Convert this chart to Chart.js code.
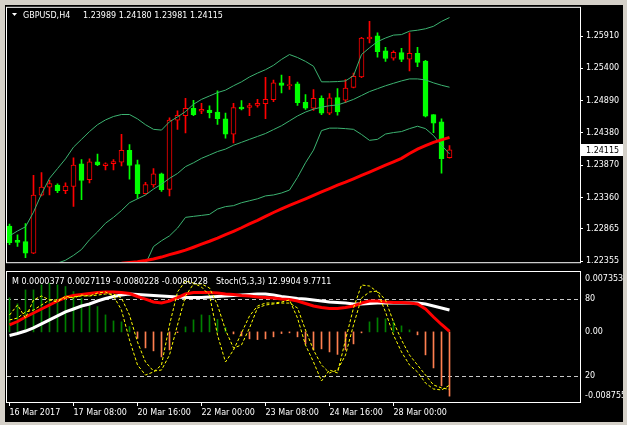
<!DOCTYPE html>
<html><head><meta charset="utf-8">
<script src="https://cdn.jsdelivr.net/npm/chart.js@4.4.1/dist/chart.umd.min.js"></script>
<style>
html,body{margin:0;padding:0;background:#d4d0c8;width:627px;height:425px;overflow:hidden}
#frame{position:absolute;left:5px;top:5px;width:618px;height:417px;background:#000;overflow:hidden}
.wrap{position:absolute;left:-5px}
</style></head><body>
<div id="frame">
  <div class="wrap" style="top:-5px;width:627px;height:270px"><canvas id="main" width="627" height="270"></canvas></div>
  <div class="wrap" style="top:265px;width:627px;height:155px"><canvas id="sub" width="627" height="155"></canvas></div>
</div>
<script>
const FONT = 'DejaVu Sans';
const categories = [
 '2017.03.16 00:00','2017.03.16 04:00','2017.03.16 08:00','2017.03.16 12:00','2017.03.16 16:00','2017.03.16 20:00',
 '2017.03.17 00:00','2017.03.17 04:00','2017.03.17 08:00','2017.03.17 12:00','2017.03.17 16:00','2017.03.17 20:00',
 '2017.03.20 00:00','2017.03.20 04:00','2017.03.20 08:00','2017.03.20 12:00','2017.03.20 16:00','2017.03.20 20:00',
 '2017.03.21 00:00','2017.03.21 04:00','2017.03.21 08:00','2017.03.21 12:00','2017.03.21 16:00','2017.03.21 20:00',
 '2017.03.22 00:00','2017.03.22 04:00','2017.03.22 08:00','2017.03.22 12:00','2017.03.22 16:00','2017.03.22 20:00',
 '2017.03.23 00:00','2017.03.23 04:00','2017.03.23 08:00','2017.03.23 12:00','2017.03.23 16:00','2017.03.23 20:00',
 '2017.03.24 00:00','2017.03.24 04:00','2017.03.24 08:00','2017.03.24 12:00','2017.03.24 16:00','2017.03.24 20:00',
 '2017.03.27 00:00','2017.03.27 04:00','2017.03.27 08:00','2017.03.27 12:00','2017.03.27 16:00','2017.03.27 20:00',
 '2017.03.28 00:00','2017.03.28 04:00','2017.03.28 08:00','2017.03.28 12:00','2017.03.28 16:00','2017.03.28 20:00',
 '2017.03.29 00:00','2017.03.29 04:00'];
const open  = [1.22909,1.22683,1.22663,1.22483,1.23397,1.23525,1.23555,1.23468,1.23535,1.23894,1.23643,1.23925,1.23863,1.23894,1.23920,1.24105,1.23879,1.23421,1.23560,1.23735,1.23489,1.24582,1.24653,1.24767,1.24725,1.24740,1.24710,1.24602,1.24360,1.24787,1.24782,1.24813,1.24843,1.24905,1.25171,1.25125,1.25156,1.24863,1.24771,1.24925,1.24694,1.24940,1.24899,1.25099,1.25264,1.25864,1.25915,1.25675,1.25561,1.25648,1.25545,1.25638,1.25514,1.24668,1.24556,1.23989];
const high  = [1.22940,1.22770,1.22950,1.23709,1.23755,1.23632,1.23575,1.23591,1.23986,1.23960,1.23971,1.24048,1.23909,1.23960,1.24360,1.24197,1.23951,1.23602,1.23817,1.23745,1.24617,1.24730,1.24925,1.24894,1.24848,1.24807,1.25044,1.24694,1.24848,1.24890,1.24848,1.24910,1.25259,1.25213,1.25294,1.25274,1.25182,1.24987,1.25064,1.24967,1.25002,1.25079,1.25222,1.25325,1.25890,1.26141,1.25961,1.25730,1.25675,1.25715,1.25961,1.25730,1.25525,1.24668,1.24602,1.24180];
const low   = [1.22617,1.22590,1.22412,1.22473,1.23386,1.23401,1.23437,1.23421,1.23221,1.23325,1.23591,1.23863,1.23797,1.23797,1.23859,1.23652,1.23345,1.23412,1.23525,1.23458,1.23386,1.24437,1.24382,1.24653,1.24683,1.24617,1.24514,1.24299,1.24222,1.24745,1.24653,1.24787,1.24606,1.24874,1.25013,1.25068,1.24813,1.24751,1.24736,1.24668,1.24668,1.24659,1.24859,1.25090,1.25253,1.25802,1.25576,1.25510,1.25530,1.25505,1.25361,1.25428,1.24633,1.24386,1.23745,1.23981];
const close = [1.22647,1.22652,1.22483,1.23397,1.23525,1.23582,1.23468,1.23540,1.23874,1.23632,1.23925,1.23874,1.23894,1.23929,1.24105,1.23868,1.23421,1.23566,1.23735,1.23483,1.24582,1.24659,1.24767,1.24668,1.24751,1.24699,1.24606,1.24360,1.24782,1.24760,1.24813,1.24848,1.24910,1.25171,1.25130,1.25145,1.24859,1.24771,1.24925,1.24694,1.24936,1.24710,1.25090,1.25274,1.25879,1.25895,1.25664,1.25556,1.25653,1.25541,1.25638,1.25494,1.24643,1.24536,1.23975,1.24115];
const bbUpper = [1.22755,1.22832,1.22898,1.23129,1.23417,1.23663,1.23817,1.23971,1.24156,1.24279,1.24402,1.24510,1.24586,1.24640,1.24671,1.24671,1.24602,1.24510,1.24437,1.24425,1.24556,1.24633,1.24717,1.24833,1.24910,1.24964,1.25017,1.25056,1.25125,1.25187,1.25264,1.25325,1.25379,1.25448,1.25541,1.25618,1.25571,1.25510,1.25433,1.25187,1.25187,1.25191,1.25202,1.25284,1.25618,1.25725,1.25822,1.25879,1.25925,1.25933,1.25987,1.26002,1.26025,1.26064,1.26141,1.26202];
const bbMiddle = [1.21847,1.21909,1.22001,1.22109,1.22201,1.22278,1.22324,1.22370,1.22447,1.22540,1.22693,1.22817,1.22955,1.23047,1.23155,1.23278,1.23340,1.23401,1.23494,1.23571,1.23663,1.23740,1.23848,1.23909,1.23979,1.24032,1.24086,1.24125,1.24186,1.24232,1.24279,1.24325,1.24371,1.24433,1.24494,1.24571,1.24648,1.24710,1.24756,1.24787,1.24810,1.24822,1.24863,1.24910,1.24971,1.25033,1.25079,1.25125,1.25164,1.25202,1.25233,1.25233,1.25217,1.25171,1.25133,1.25102];
const bbLower = [1.20462,1.20539,1.20616,1.20693,1.20770,1.20847,1.20893,1.20924,1.20954,1.21001,1.21078,1.21231,1.21385,1.21539,1.21693,1.21878,1.22078,1.22309,1.22586,1.22678,1.22755,1.22878,1.23047,1.23063,1.23078,1.23094,1.23178,1.23217,1.23232,1.23278,1.23309,1.23340,1.23386,1.23401,1.23432,1.23478,1.23678,1.23909,1.24109,1.24417,1.24456,1.24456,1.24448,1.24437,1.24356,1.24263,1.24279,1.24363,1.24386,1.24402,1.24448,1.24486,1.24448,1.24340,1.24186,1.24048];
const maLine = [1.22124,1.22139,1.22155,1.22170,1.22186,1.22201,1.22216,1.22232,1.22247,1.22263,1.22278,1.22293,1.22301,1.22316,1.22324,1.22335,1.22347,1.22366,1.22389,1.22420,1.22458,1.22493,1.22529,1.22575,1.22624,1.22670,1.22720,1.22774,1.22827,1.22883,1.22943,1.23001,1.23063,1.23124,1.23181,1.23237,1.23286,1.23340,1.23394,1.23448,1.23501,1.23555,1.23602,1.23655,1.23709,1.23763,1.23817,1.23871,1.23925,1.23979,1.24056,1.24125,1.24179,1.24232,1.24271,1.24309];
const macdHist = [0.00425,0.00350,0.00524,0.00524,0.00587,0.00608,0.00587,0.00566,0.00503,0.00421,0.00337,0.00316,0.00212,0.00137,0.00125,0.00066,-0.00081,-0.00200,-0.00237,-0.00312,-0.00225,-0.00010,0.00062,0.00150,0.00212,0.00206,0.00156,0.00056,-0.00025,-0.00050,-0.00087,-0.00096,-0.00087,-0.00062,-0.00021,-0.00012,-0.00062,-0.00150,-0.00225,-0.00212,-0.00250,-0.00281,-0.00225,-0.00150,-0.00012,0.00125,0.00175,0.00162,0.00125,0.00075,0.00025,-0.00037,-0.00287,-0.00450,-0.00674,-0.0080228];
const lineRed = [59.7,62.4,65.9,69.0,72.1,75.2,78.3,81.0,82.6,83.3,84.1,84.9,85.3,85.3,84.9,84.1,81.8,79.8,77.5,76.7,78.3,81.0,83.7,84.9,84.9,84.9,84.5,83.7,83.3,82.6,82.2,81.4,81.0,80.6,79.8,79.5,78.3,76.4,74.4,73.3,72.5,72.5,73.3,74.4,76.7,78.3,78.3,77.5,77.1,77.1,76.7,76.0,72.1,65.9,60.1,54.7];
const lineWhite = [51.6,53.1,55.0,57.4,60.5,63.6,66.7,69.8,72.1,74.4,76.0,78.3,80.2,81.8,82.9,83.7,83.3,82.9,82.6,82.2,81.8,81.4,81.0,81.0,81.0,81.4,81.8,82.2,82.6,82.9,83.3,83.7,83.7,82.9,81.8,81.0,80.2,79.8,79.1,78.3,77.5,77.1,76.7,76.0,76.0,76.4,76.7,76.7,76.7,76.7,76.7,76.7,76.0,74.4,72.9,71.3];
const stochK = [67.4,75.2,65.1,79.1,82.2,79.1,77.5,82.2,80.6,82.9,82.2,84.5,85.3,82.2,71.3,48.1,28.7,20.9,23.3,28.7,59.7,85.3,93.8,92.2,89.1,82.9,51.9,31.0,40.3,53.5,66.7,74.4,76.7,76.7,77.5,79.1,65.1,44.2,31.0,16.3,24.8,22.5,48.1,72.9,90.7,89.9,85.3,69.8,51.9,38.8,28.7,23.3,14.7,10.1,9.3,12.9904];
const stochD = [63.6,65.1,69.8,71.3,75.2,79.1,79.1,80.6,81.4,82.2,82.2,82.9,83.7,83.7,80.6,67.4,46.5,31.0,24.0,24.8,36.4,59.7,82.2,91.5,91.5,88.4,75.2,55.8,41.9,44.2,57.4,72.9,75.2,76.0,76.7,76.7,72.9,55.8,40.3,28.7,22.5,24.8,36.4,59.7,80.6,85.3,86.0,79.1,62.0,48.1,36.4,28.7,20.9,13.2,10.9,9.7711];
const priceTicks = [1.25910,1.25400,1.24890,1.24380,1.23870,1.23360,1.22865,1.22355];
const dateTickIdx = [0,8,16,24,32,40,48];
const dateTickLabels = ['16 Mar 2017','17 Mar 08:00','20 Mar 16:00','22 Mar 00:00','23 Mar 08:00','24 Mar 16:00','28 Mar 00:00'];
const stochLevels = [80,20];
const macdAxisValues = [0.007353, 0, -0.008755];
const macdAxisLabels = ['0.007353','0.00','-0.008755'];
const macdTitleValues = ['0.0000377','0.0027119','-0.0080228','-0.0080228'];
const symbolTitle = 'GBPUSD,H4';
const stochTitle = 'Stoch(5,3,3)';

Chart.defaults.font.family = FONT;
Chart.defaults.font.size = 8;
const X_MIN = -0.3125, X_MAX = 71.3125;
const idx = categories.map((_, i) => i);
const up = idx.map(i => close[i] >= open[i]);
const pts = arr => idx.map(i => ({x: i, y: arr[i]}));
const lineDs = (label, arr, color, width, order, axis, dash) => ({
  type: 'line', label, data: pts(arr), borderColor: color, borderWidth: width, pointRadius: 0,
  tension: 0, order, yAxisID: axis, borderDash: dash || [], fill: false
});

const mainDeco = {
  id: 'mainDeco',
  afterDraw(chart) {
    const {ctx, chartArea: a, scales: {y}} = chart;
    ctx.save();
    ctx.strokeStyle = '#fff'; ctx.lineWidth = 1;
    ctx.strokeRect(a.left - 0.5, a.top - 0.5, a.right - a.left + 1, a.bottom - a.top + 1);
    ctx.fillStyle = '#fff';
    ctx.beginPath(); ctx.moveTo(12, 13); ctx.lineTo(17, 13); ctx.lineTo(14.5, 16); ctx.closePath(); ctx.fill();
    ctx.font = '8px "' + FONT + '"'; ctx.textBaseline = 'middle'; ctx.textAlign = 'left';
    ctx.fillText(symbolTitle, 23, 15.5);
    const last = close.length - 1;
    ctx.fillText([open[last], high[last], low[last], close[last]].map(v => v.toFixed(5)).join(' '), 83, 15.5);
    const py = Math.round(y.getPixelForValue(close[last]));
    ctx.fillStyle = '#fff'; ctx.fillRect(581, py - 6, 46, 12);
    ctx.fillStyle = '#000'; ctx.fillText(close[last].toFixed(5), 586, py + 0.5);
    ctx.restore();
  }
};

new Chart(document.getElementById('main'), {
  type: 'bar',
  data: { datasets: [
    lineDs('MA', maLine, '#ff0000', 3, 0, 'y'),
    lineDs('BB upper', bbUpper, '#3cb371', 1, 1, 'y'),
    lineDs('BB middle', bbMiddle, '#3cb371', 1, 1, 'y'),
    lineDs('BB lower', bbLower, '#3cb371', 1, 1, 'y'),
    { type: 'bar', label: 'Body', data: idx.map(i => ({x: i, y: [open[i], close[i]]})),
      backgroundColor: idx.map(i => up[i] ? '#000000' : '#00ff00'),
      borderColor: idx.map(i => up[i] ? '#ff0000' : '#00ff00'),
      borderWidth: 1, borderSkipped: false, barThickness: 5, grouped: false, order: 2, yAxisID: 'y' },
    { type: 'bar', label: 'Wick', data: idx.map(i => ({x: i, y: [low[i], high[i]]})),
      backgroundColor: idx.map(i => up[i] ? '#ff0000' : '#00ff00'),
      borderWidth: 0, barThickness: 1, grouped: false, order: 3, yAxisID: 'y' }
  ]},
  options: {
    responsive: false, animation: false, events: [],
    layout: { padding: { left: 7, top: 7, right: 0, bottom: 2 } },
    plugins: { legend: { display: false }, tooltip: { enabled: false } },
    scales: {
      x: { type: 'linear', min: X_MIN, max: X_MAX, offset: false, display: false },
      y: { type: 'linear', position: 'right', min: 1.22339, max: 1.26356,
        afterBuildTicks: s => { s.ticks = priceTicks.map(v => ({value: v})); },
        afterFit: s => { s.width = 47; },
        grid: { display: true, drawOnChartArea: false, drawTicks: true, tickLength: 3, color: '#ffffff' },
        border: { display: true, color: '#ffffff' },
        ticks: { color: '#ffffff', font: { family: FONT, size: 8 }, padding: 3, autoSkip: false,
          callback: v => Number(v).toFixed(5) } }
    }
  },
  plugins: [mainDeco]
});

const subDeco = {
  id: 'subDeco',
  beforeDatasetsDraw(chart) {
    const {ctx, chartArea: a, scales: {yS}} = chart;
    ctx.save();
    ctx.strokeStyle = '#c8c8c8'; ctx.lineWidth = 1; ctx.setLineDash([4, 3]);
    stochLevels.forEach(v => {
      const py = Math.round(yS.getPixelForValue(v)) + 0.5;
      ctx.beginPath(); ctx.moveTo(a.left, py); ctx.lineTo(a.right, py); ctx.stroke();
    });
    ctx.restore();
  },
  afterDraw(chart) {
    const {ctx, chartArea: a, scales: {yS, yM}} = chart;
    ctx.save();
    ctx.strokeStyle = '#fff'; ctx.lineWidth = 1;
    ctx.strokeRect(a.left - 0.5, a.top - 1.5, a.right - a.left + 1, a.bottom - a.top + 2);
    ctx.fillStyle = '#fff';
    ctx.font = '8px "' + FONT + '"'; ctx.textBaseline = 'middle'; ctx.textAlign = 'left';
    ctx.fillText('M ' + macdTitleValues.join(' '), 12, 11.7);
    ctx.fillText(stochTitle + ' ' + stochK[stochK.length - 1].toFixed(4) + ' ' + stochD[stochD.length - 1].toFixed(4), 216, 11.7);
    macdAxisValues.forEach((v, k) => {
      let py = yM.getPixelForValue(v);
      if (k === 0) py += 6; else if (k === macdAxisValues.length - 1) py -= 6;
      ctx.fillText(macdAxisLabels[k], 585, py);
    });
    stochLevels.forEach(v => ctx.fillText(String(v), 585, yS.getPixelForValue(v)));
    ctx.restore();
  }
};

new Chart(document.getElementById('sub'), {
  type: 'bar',
  data: { datasets: [
    lineDs('%K', stochK, '#ffff00', 1, 0, 'yS', [3, 2]),
    lineDs('%D', stochD, '#ffff00', 1, 0, 'yS', [3, 2]),
    lineDs('Red', lineRed, '#ff0000', 3, 1, 'yS'),
    lineDs('White', lineWhite, '#ffffff', 3, 2, 'yS'),
    { type: 'bar', label: 'MACD', data: pts(macdHist),
      backgroundColor: macdHist.map(v => v >= 0 ? '#008000' : '#ff7f50'),
      borderWidth: 0, barThickness: 1, grouped: false, order: 3, yAxisID: 'yM' }
  ]},
  options: {
    responsive: false, animation: false, events: [],
    layout: { padding: { left: 7, top: 3, right: 0, bottom: 0 } },
    plugins: { legend: { display: false }, tooltip: { enabled: false } },
    scales: {
      x: { type: 'linear', min: X_MIN, max: X_MAX, offset: false, position: 'bottom',
        afterBuildTicks: s => { s.ticks = dateTickIdx.map(v => ({value: v})); },
        afterFit: s => { s.height = 23; },
        grid: { display: true, drawOnChartArea: false, drawTicks: true, tickLength: 4, color: '#ffffff', offset: false },
        border: { display: true, color: '#ffffff' },
        ticks: { color: '#ffffff', font: { family: FONT, size: 8 }, padding: 2, align: 'start',
          maxRotation: 0, autoSkip: false,
          callback: v => dateTickLabels[dateTickIdx.indexOf(v)] } },
      yS: { type: 'linear', position: 'right', min: 0, max: 100,
        afterFit: s => { s.width = 47; },
        grid: { display: false }, ticks: { display: false },
        border: { display: true, color: '#ffffff' } },
      yM: { type: 'linear', display: false, min: -0.008755, max: 0.007353 }
    }
  },
  plugins: [subDeco]
});
</script>
</body></html>
